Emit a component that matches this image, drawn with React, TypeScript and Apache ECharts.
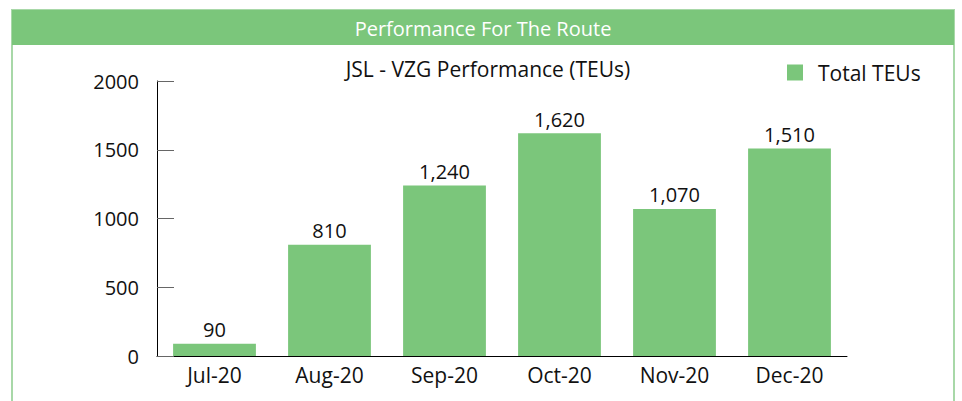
import React, { useEffect, useRef } from "react";
import * as echarts from "echarts";

const categories = ["Jul-20", "Aug-20", "Sep-20", "Oct-20", "Nov-20", "Dec-20"];
const totalTEUs = [90, 810, 1240, 1620, 1070, 1510];
const yTicks = { min: 0, max: 2000, interval: 500 };

const GREEN = "#7BC67B";
const FONT = "'Open Sans', 'Noto Sans', sans-serif";

export default function App() {
  const ref = useRef<HTMLDivElement>(null);
  useEffect(() => {
    if (!ref.current) return;
    const chart = echarts.init(ref.current, undefined, { renderer: "svg" });
    chart.setOption({
      animation: false,
      textStyle: { fontFamily: FONT },
      graphic: [
        {
          type: "rect",
          shape: { x: 12, y: 10, width: 942, height: 430 },
          style: { fill: "#fff", stroke: "#a8d8a8", lineWidth: 2 },
          z: -10,
        },
        {
          type: "rect",
          shape: { x: 12, y: 10, width: 942, height: 35 },
          style: { fill: GREEN },
          z: -9,
        },
        {
          type: "text",
          x: 483,
          y: 28,
          style: {
            text: "Performance For The Route",
            fill: "#fff",
            font: `20px ${FONT}`,
            align: "center",
            verticalAlign: "middle",
          },
        },
      ],
      title: {
        text: "JSL - VZG Performance (TEUs)",
        left: 483,
        textAlign: "center",
        top: 53,
        textStyle: { fontSize: 21, fontWeight: "normal", color: "#111", fontFamily: FONT },
      },
      legend: {
        left: 782,
        top: 57,
        itemWidth: 16,
        itemHeight: 16,
        icon: "rect",
        textStyle: { fontSize: 21, color: "#111", fontFamily: FONT, padding: [0, 0, 0, 10] },
        data: ["Total TEUs"],
      },
      grid: { left: 157, right: 115, top: 81, bottom: 45, containLabel: false },
      xAxis: {
        type: "category",
        data: categories,
        axisLine: { lineStyle: { color: "#000", width: 1 } },
        axisTick: { inside: true, length: 7, lineStyle: { color: "#333" }, alignWithLabel: false },
        axisLabel: { fontSize: 21, color: "#111", margin: 8, fontFamily: FONT },
      },
      yAxis: {
        type: "value",
        min: yTicks.min,
        max: yTicks.max,
        interval: yTicks.interval,
        axisLine: { show: true, lineStyle: { color: "#000", width: 1 } },
        axisTick: { show: true, inside: true, length: 17, lineStyle: { color: "#666" } },
        splitLine: { show: false },
        axisLabel: {
          fontSize: 20,
          color: "#111",
          margin: 18,
          fontFamily: FONT,
          formatter: (v: number) => String(v),
        },
      },
      series: [
        {
          name: "Total TEUs",
          type: "bar",
          data: totalTEUs,
          barCategoryGap: "28%",
          itemStyle: { color: GREEN },
          label: {
            show: true,
            position: "top",
            distance: 4,
            fontSize: 20,
            color: "#111",
            fontFamily: FONT,
            formatter: (p: any) => Number(p.value).toLocaleString("en-US"),
          },
        },
      ],
    });
    return () => chart.dispose();
  }, []);
  return (
    <div
      ref={ref}
      style={{ position: "absolute", left: 0, top: 0, width: 962, height: 401 }}
    />
  );
}
